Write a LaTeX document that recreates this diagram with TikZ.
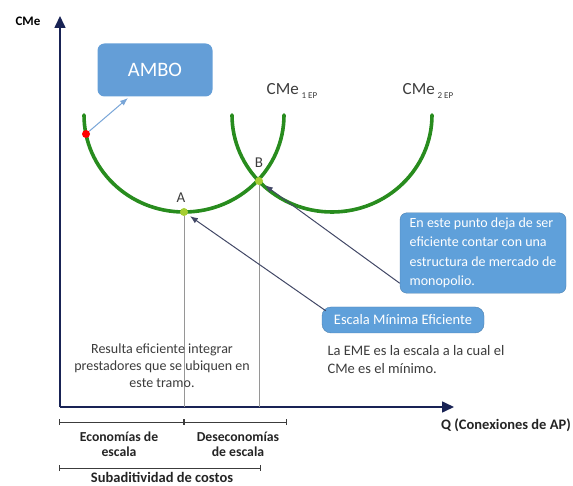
\documentclass[tikz,border=0pt]{standalone}
\usepackage{fontspec}
\setmainfont{Carlito}
\usetikzlibrary{arrows.meta}

\definecolor{curvegreen}{RGB}{40,140,30}
\definecolor{dotgreen}{RGB}{165,205,50}
\definecolor{boxblue}{RGB}{95,160,218}
\definecolor{amboblue}{RGB}{100,158,215}
\definecolor{axisnavy}{RGB}{25,35,85}
\definecolor{textgray}{RGB}{60,60,60}
\definecolor{linegray}{RGB}{150,150,150}
\definecolor{pointblue}{RGB}{120,165,215}

\tikzset{
  bluebox/.style={rounded corners=7pt, fill=boxblue, draw=boxblue!80!black, text=white},
  cmecurve/.style={curvegreen, line width=3.6pt, line cap=round},
  dot/.style={circle, fill=dotgreen, inner sep=0pt, minimum size=8pt},
  pointer/.style={axisnavy!60!gray, line width=1pt, -{Latex[length=8pt,width=6pt]}, shorten >=3pt},
  bracket/.style={textgray, line width=0.9pt, {Bar[width=6pt]}-{Bar[width=6pt]}},
  boldlab/.style={align=center, font=\bfseries\fontsize{13.7}{15}\selectfont, text=textgray!60!black},
}

\begin{document}
\begin{tikzpicture}[x=1pt,y=-1pt]
\useasboundingbox (0,0) rectangle (573,486);

% axes
\coordinate (o) at (60,407);
\coordinate (ytop) at (60,16);
\coordinate (xend) at (454,407);
\draw[axisnavy, line width=1.6pt, -{Triangle[length=12pt,width=11pt]}] (o) -- (ytop);
\draw[axisnavy, line width=1.6pt, -{Triangle[length=12pt,width=11pt]}] (o) -- (xend);
\node[font=\bfseries\fontsize{13}{15}\selectfont] (ylab) at (28,21) {CMe};
\node[font=\bfseries\fontsize{14.5}{16}\selectfont, text=textgray!60!black] (xlab) at (506,425) {Q (Conexiones de AP)};

% curvas CMe
\draw[cmecurve] (84,115) arc[start angle=180, end angle=0, x radius=100, y radius=97];
\draw[cmecurve] (232,115) arc[start angle=180, end angle=0, x radius=100, y radius=97];
\node[font=\fontsize{17}{19}\selectfont, text=textgray] (cme1) at (292,91) {CMe\,\raisebox{-4pt}{\fontsize{9}{9}\selectfont 1 EP}};
\node[font=\fontsize{17}{19}\selectfont, text=textgray] (cme2) at (428,91) {CMe\,\raisebox{-4pt}{\fontsize{9}{9}\selectfont 2 EP}};

% puntos
\node[dot] (A) at (184,212) {};
\node[dot] (B) at (259,181) {};
\node[circle, fill=red, inner sep=0pt, minimum size=8pt] (red) at (86,134) {};
\node[font=\fontsize{15}{17}\selectfont, text=textgray] (Alab) at (181,198) {A};
\node[font=\fontsize{15}{17}\selectfont, text=textgray] (Blab) at (259,163) {B};
\draw[linegray, line width=1pt] (A) -- (A |- o);
\draw[linegray, line width=1pt] (B) -- (B |- o);

% AMBO
\node[rounded corners=7pt, fill=amboblue, text=white, minimum width=115pt, minimum height=53pt,
  font=\fontsize{20.5}{23}\selectfont] (ambo) at (155,70) {AMBO};
\coordinate (amboin) at (128,98);
\draw[pointblue, line width=1pt, -{Latex[length=8pt,width=6pt]}] (red) -- (amboin);

% cuadros
\node[bluebox, minimum width=166pt, minimum height=80pt, align=left, inner sep=5pt,
  font=\fontsize{14}{19.5}\selectfont] (punto) at (483,253)
  {En este punto deja de ser\\eficiente contar con una\\estructura de mercado de\\monopolio.};
\node[bluebox, rounded corners=9pt, minimum width=162pt, minimum height=26pt,
  font=\fontsize{14.5}{16}\selectfont] (eme) at (403,320) {Escala Mínima Eficiente};
\draw[pointer] (punto.200) -- (B);
\draw[pointer] ([xshift=4pt,yshift=-4pt]eme.north west) -- (A);

% textos
\node[anchor=north west, align=left, text=textgray, font=\fontsize{14.5}{18}\selectfont] (emetxt) at (324,342)
  {La EME es la escala a la cual el\\CMe es el mínimo.};
\node[align=center, text=textgray, font=\fontsize{14}{17}\selectfont] (tramo) at (162,366)
  {Resulta eficiente integrar\\prestadores que se ubiquen en\\este tramo.};

% tramos
\coordinate (t0) at (59,422);
\coordinate (t1) at (184,422);
\coordinate (t2) at (287,422);
\coordinate (s0) at (59,468);
\coordinate (s1) at (261,468);
\draw[bracket] (t0) -- (t1);
\draw[bracket] (t1) -- (t2);
\draw[bracket] (s0) -- (s1);
\node[boldlab] (econ) at (119,444) {Economías de\\escala};
\node[boldlab] (desecon) at (238,444) {Deseconomías\\de escala};
\node[boldlab, font=\bfseries\fontsize{14.5}{15}\selectfont] (subad) at (162,477) {Subaditividad de costos};
\end{tikzpicture}
\end{document}
